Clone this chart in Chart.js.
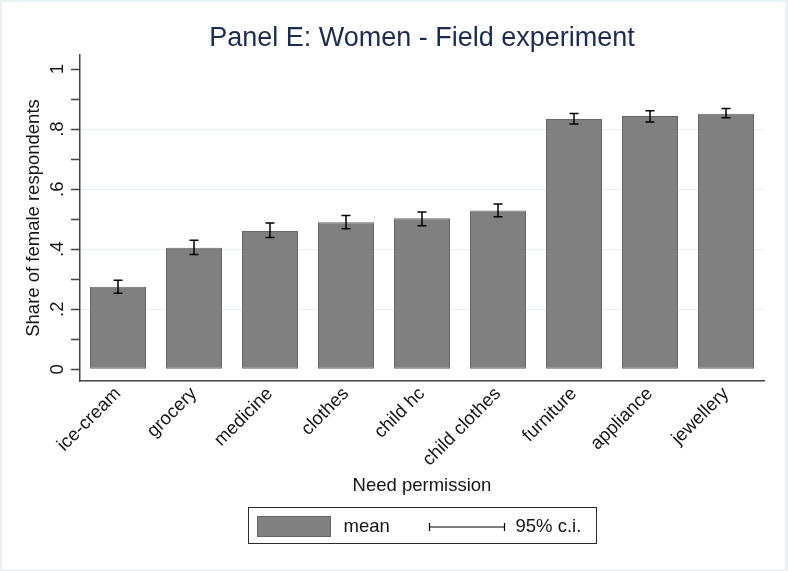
<!DOCTYPE html>
<html>
<head>
<meta charset="utf-8">
<script src="https://cdn.jsdelivr.net/npm/chart.js@4.4.1/dist/chart.umd.min.js"></script>
<style>
  html, body { margin: 0; padding: 0; background: #ffffff; }
  #wrap { width: 788px; height: 571px; }
</style>
</head>
<body>
<div id="wrap"><canvas id="chart" width="788" height="571"></canvas></div>
<script>
// Purchase categories, in ascending order of the share needing permission
const categories = ['ice-cream', 'grocery', 'medicine', 'clothes', 'child hc',
                    'child clothes', 'furniture', 'appliance', 'jewellery'];

// Mean share of female respondents needing permission
const means  = [0.275, 0.405, 0.461, 0.490, 0.503, 0.529, 0.834, 0.844, 0.851];

// 95% confidence interval bounds
const ciLow  = [0.253, 0.382, 0.439, 0.468, 0.478, 0.508, 0.817, 0.824, 0.838];
const ciHigh = [0.297, 0.430, 0.487, 0.512, 0.524, 0.551, 0.852, 0.861, 0.869];

// Y axis: labelled ticks, minor ticks, and the labels shown
const yMajorTicks = [0, 0.2, 0.4, 0.6, 0.8, 1];
const yMinorTicks = [0.1, 0.3, 0.5, 0.7, 0.9];
const yTickLabels = ['0', '.2', '.4', '.6', '.8', '1'];
const yGridTicks  = [0.2, 0.4, 0.6, 0.8];

const FONT = '"Liberation Sans", Arial, Helvetica, sans-serif';
const TEXT_SIZE = 18.5;
const AXIS_COLOR = '#454545';
const TEXT_COLOR = '#151515';
const BAR_FILL = '#808080';
const BAR_EDGE = '#666666';

const near = (a, b) => Math.abs(a - b) < 1e-6;

// Light frame around the whole graph, white inside
const backgroundPlugin = {
  id: 'graphBackground',
  beforeDraw(chart) {
    const { ctx, width, height } = chart;
    ctx.save();
    ctx.fillStyle = '#eaf2f3';
    ctx.fillRect(0, 0, width, height);
    ctx.fillStyle = '#ffffff';
    ctx.fillRect(2, 2, width - 5, height - 4);
    ctx.restore();
  }
};

// Confidence interval whiskers on top of each bar
const errorBarPlugin = {
  id: 'errorBars',
  afterDatasetsDraw(chart) {
    const { ctx } = chart;
    const ys = chart.scales.y;
    const meta = chart.getDatasetMeta(0);
    const cap = 4.5;
    ctx.save();
    ctx.strokeStyle = '#000000';
    ctx.lineWidth = 1.5;
    meta.data.forEach((bar, i) => {
      const x = bar.x;
      const yl = ys.getPixelForValue(ciLow[i]);
      const yh = ys.getPixelForValue(ciHigh[i]);
      ctx.beginPath();
      ctx.moveTo(x, yl); ctx.lineTo(x, yh);
      ctx.moveTo(x - cap, yl); ctx.lineTo(x + cap, yl);
      ctx.moveTo(x - cap, yh); ctx.lineTo(x + cap, yh);
      ctx.stroke();
    });
    ctx.restore();
  }
};

// Vertical y tick labels, reading bottom to top
const yLabelPlugin = {
  id: 'yTickLabels',
  afterDraw(chart) {
    const { ctx } = chart;
    const ys = chart.scales.y;
    const x = ys.right - 17;
    ctx.save();
    ctx.font = TEXT_SIZE + 'px ' + FONT;
    ctx.fillStyle = TEXT_COLOR;
    ctx.textAlign = 'center';
    ctx.textBaseline = 'alphabetic';
    yMajorTicks.forEach((v, i) => {
      const py = ys.getPixelForValue(v);
      ctx.save();
      ctx.translate(x, py);
      ctx.rotate(-Math.PI / 2);
      ctx.fillText(yTickLabels[i], 0, 0);
      ctx.restore();
    });
    ctx.restore();
  }
};

// Boxed legend below the axis title
const legendPlugin = {
  id: 'boxedLegend',
  afterDraw(chart) {
    const { ctx, chartArea } = chart;
    const cx = (chartArea.left + chartArea.right) / 2;
    const left = Math.round(cx - 174) + 0.5;
    const top = 507.5;
    const midY = top + 19.5;
    ctx.save();
    ctx.fillStyle = '#ffffff';
    ctx.fillRect(left, top, 348, 36);
    ctx.strokeStyle = '#2b2b2b';
    ctx.lineWidth = 1;
    ctx.strokeRect(left, top, 348, 36);

    // bar swatch
    ctx.fillStyle = BAR_FILL;
    ctx.fillRect(left + 9, top + 9, 73, 20);
    ctx.strokeStyle = BAR_EDGE;
    ctx.strokeRect(left + 9, top + 9, 73, 20);

    ctx.font = TEXT_SIZE + 'px ' + FONT;
    ctx.fillStyle = TEXT_COLOR;
    ctx.textAlign = 'left';
    ctx.textBaseline = 'middle';
    ctx.fillText('mean', left + 95, midY);

    // interval sample
    const x0 = left + 181, x1 = left + 256;
    ctx.strokeStyle = '#000000';
    ctx.lineWidth = 1.2;
    ctx.beginPath();
    ctx.moveTo(x0, midY); ctx.lineTo(x1, midY);
    ctx.moveTo(x0, midY - 4); ctx.lineTo(x0, midY + 4);
    ctx.moveTo(x1, midY - 4); ctx.lineTo(x1, midY + 4);
    ctx.stroke();
    ctx.fillText('95% c.i.', left + 267, midY);
    ctx.restore();
  }
};

new Chart(document.getElementById('chart'), {
  type: 'bar',
  data: {
    labels: categories,
    datasets: [{
      label: 'mean',
      data: means,
      backgroundColor: BAR_FILL,
      borderColor: BAR_EDGE,
      borderWidth: 1,
      borderSkipped: false,
      barPercentage: 0.737,
      categoryPercentage: 1
    }]
  },
  options: {
    responsive: false,
    animation: false,
    devicePixelRatio: 1,
    layout: { padding: { left: 0, right: 24, top: 0, bottom: 74.4 } },
    plugins: {
      legend: { display: false },
      tooltip: { enabled: false },
      title: {
        display: true,
        text: 'Panel E: Women - Field experiment',
        fullSize: false,
        color: '#1c2b50',
        font: { family: FONT, size: 27, weight: 'normal' },
        padding: { top: 22.4, bottom: 0.2 }
      }
    },
    scales: {
      x: {
        afterFit(scale) { scale.height = 115.6; },
        grid: { display: false },
        border: { display: true, color: AXIS_COLOR, width: 1.5 },
        ticks: {
          autoSkip: false,
          minRotation: 45,
          maxRotation: 45,
          padding: -6,
          color: TEXT_COLOR,
          font: { family: FONT, size: TEXT_SIZE }
        },
        title: {
          display: true,
          text: 'Need permission',
          color: TEXT_COLOR,
          font: { family: FONT, size: TEXT_SIZE },
          padding: { top: 0, bottom: 0 }
        }
      },
      y: {
        min: -0.039,
        max: 1.047,
        afterFit(scale) { scale.width = 80; },
        afterBuildTicks(scale) {
          scale.ticks = yMajorTicks.concat(yMinorTicks)
            .sort((a, b) => a - b)
            .map(v => ({ value: v }));
        },
        ticks: { display: false },
        grid: {
          color: (ctx) => (ctx.tick && yGridTicks.some(g => near(g, ctx.tick.value)))
            ? '#e4eef0' : 'rgba(0,0,0,0)',
          lineWidth: 1,
          drawTicks: true,
          tickLength: 9,
          tickColor: AXIS_COLOR,
          tickWidth: 1.5
        },
        border: { display: true, color: AXIS_COLOR, width: 1.5 },
        title: {
          display: true,
          text: 'Share of female respondents',
          color: TEXT_COLOR,
          font: { family: FONT, size: TEXT_SIZE },
          padding: { top: 23.2, bottom: 0 }
        }
      }
    }
  },
  plugins: [backgroundPlugin, errorBarPlugin, yLabelPlugin, legendPlugin]
});
</script>
</body>
</html>
